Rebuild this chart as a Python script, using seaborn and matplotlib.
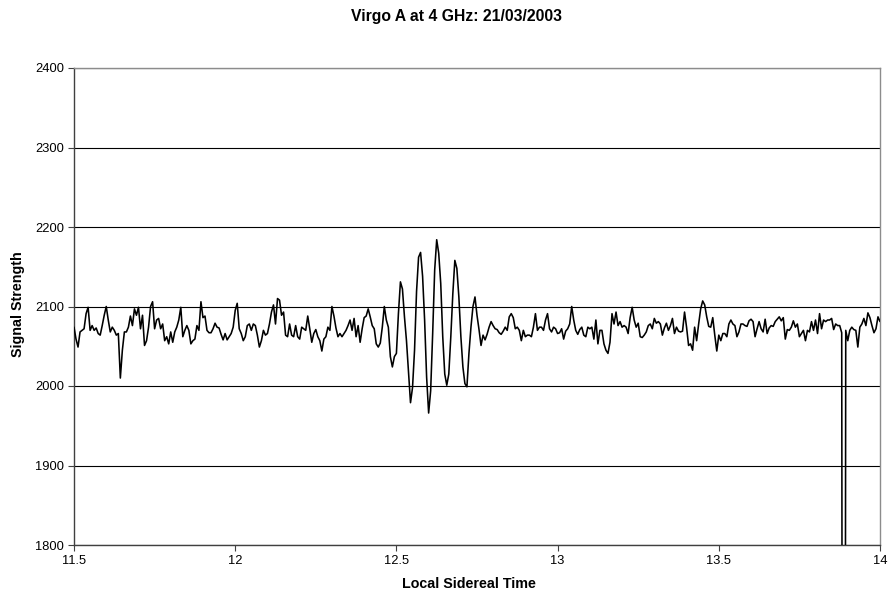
import numpy as np
import pandas as pd
import matplotlib
matplotlib.use("Agg")
import matplotlib.pyplot as plt
import seaborn as sns

# Receiver output, sampled every 0.00625 h of local sidereal time from 11.5 h
lst_start = 11.5
lst_step = 0.00625
signal = [
    2074, 2059, 2049, 2068, 2070, 2072, 2091, 2099, 2070, 2076,
    2070, 2073, 2066, 2064, 2076, 2089, 2100, 2083, 2068, 2074,
    2070, 2064, 2066, 2010, 2045, 2068, 2068, 2074, 2088, 2076,
    2097, 2089, 2099, 2072, 2089, 2051, 2057, 2074, 2100, 2106,
    2072, 2083, 2085, 2072, 2078, 2057, 2062, 2053, 2068,
    2055, 2068, 2074, 2083, 2099, 2062, 2070, 2076, 2070, 2053,
    2057, 2059, 2076, 2070, 2106, 2086, 2088, 2070, 2067, 2067,
    2072, 2079, 2074, 2073, 2065, 2058, 2066, 2058, 2062, 2066,
    2074, 2095, 2104, 2072, 2066, 2057, 2062, 2076, 2078, 2070,
    2078, 2076, 2064, 2049, 2057, 2070, 2064, 2066, 2078, 2093,
    2102, 2078, 2110, 2108, 2089, 2093, 2064, 2062, 2078, 2064,
    2062, 2076, 2062, 2059, 2074, 2072, 2070, 2088, 2072, 2055,
    2066, 2071, 2062, 2057, 2044, 2059, 2062, 2074, 2070, 2100,
    2088, 2073, 2062, 2066, 2062, 2066, 2070, 2076, 2083, 2070,
    2085, 2062, 2076, 2055, 2072, 2086, 2088, 2097, 2087, 2076,
    2072, 2053, 2049, 2054, 2074, 2100, 2083, 2074, 2037, 2024,
    2037, 2041, 2091, 2131, 2122, 2087, 2057, 2019, 1979, 1998,
    2045, 2119, 2162, 2168, 2138, 2083, 2011, 1966, 1994, 2066,
    2146, 2184, 2167, 2129, 2062, 2015, 2001, 2015, 2062, 2116,
    2158, 2148, 2112, 2062, 2024, 2003, 1999, 2041, 2074, 2100,
    2112, 2089, 2071, 2051, 2064, 2058, 2065, 2074, 2081, 2076,
    2072, 2071, 2067, 2065, 2069, 2074, 2070, 2087, 2091, 2086,
    2072, 2074, 2070, 2057, 2070, 2062, 2064, 2064, 2062, 2074,
    2091, 2070, 2074, 2074, 2070, 2083, 2091, 2072, 2068, 2074,
    2072, 2066, 2067, 2072, 2059, 2069, 2072, 2078, 2100, 2083,
    2070, 2065, 2071, 2074, 2064, 2062, 2074, 2072, 2074, 2059,
    2083, 2053, 2070, 2070, 2053, 2045, 2041, 2055, 2091, 2078,
    2093, 2076, 2081, 2074, 2076, 2074, 2066, 2086, 2099, 2083,
    2074, 2079, 2062, 2061, 2064, 2068, 2076, 2078, 2072, 2085,
    2079, 2081, 2078, 2064, 2073, 2079, 2070, 2076, 2085, 2066,
    2074, 2069, 2068, 2069, 2093, 2074, 2051, 2053, 2045, 2074,
    2057, 2078, 2097, 2107, 2102, 2087, 2075, 2074, 2086, 2064,
    2044, 2064, 2057, 2066, 2066, 2062, 2078, 2083, 2078, 2076,
    2062, 2068, 2078, 2078, 2076, 2075, 2082, 2084, 2081, 2062,
    2072, 2081, 2072, 2068, 2084, 2066, 2073, 2076, 2075,
    2081, 2084, 2087, 2082, 2086, 2059, 2071, 2070, 2074, 2082,
    2074, 2078, 2062, 2066, 2070, 2057, 2070, 2068, 2081, 2070,
    2083, 2066, 2091, 2072, 2083, 2081, 2083, 2083, 2085, 2071,
    2078, 2076, 2076, 2067, 0, 2070, 2057, 2070, 2074, 2071,
    2070, 2049, 2074, 2078, 2085, 2076, 2092, 2086, 2076, 2067,
    2072, 2087, 2081,
]

x_ticks = [11.5, 12.0, 12.5, 13.0, 13.5, 14.0]
x_tick_labels = ["11.5", "12", "12.5", "13", "13.5", "14"]
y_ticks = [1800, 1900, 2000, 2100, 2200, 2300, 2400]

lst = lst_start + lst_step * np.arange(len(signal))
df = pd.DataFrame({"lst": lst, "signal": signal})

sns.set_style("white")
plt.rcParams["font.family"] = ["Liberation Sans", "DejaVu Sans"]
plt.rcParams["text.color"] = "black"

W, H = 891, 594
fig = plt.figure(figsize=(W / 100, H / 100), dpi=100)
ax = fig.add_axes([74 / W, 49 / H, 806 / W, 477 / H])

sns.lineplot(data=df, x="lst", y="signal", ax=ax, color="black",
             linewidth=1.15, estimator=None, sort=False, zorder=3)

ax.set_xlim(11.5, 14.0)
ax.set_ylim(1800, 2400)
ax.set_xticks(x_ticks)
ax.set_xticklabels(x_tick_labels)
ax.set_yticks(y_ticks)
ax.yaxis.grid(True, color="black", linewidth=0.8, zorder=1)
ax.xaxis.grid(False)
ax.set_xlabel("")
ax.set_ylabel("")

for side in ("top", "right"):
    ax.spines[side].set_color("#8c8c8c")
    ax.spines[side].set_linewidth(1.0)
for side in ("left", "bottom"):
    ax.spines[side].set_color("#404040")
    ax.spines[side].set_linewidth(1.0)

ax.tick_params(axis="both", which="major", direction="out", length=4,
               width=0.8, color="#404040", labelcolor="black",
               labelsize=9.3, pad=3, left=True, bottom=True)

fig.text(0.512, 1 - 17 / H, "Virgo A at 4 GHz: 21/03/2003", ha="center",
         va="center", fontsize=11.3, fontweight="bold", color="black")
fig.text(469 / W, 1 - 584 / H, "Local Sidereal Time", ha="center",
         va="center", fontsize=10.3, fontweight="bold", color="black")
fig.text(18 / W, 1 - 304 / H, "Signal Strength", ha="center", va="center",
         rotation=90, fontsize=10.3, fontweight="bold", color="black")

fig.savefig("out.png", dpi=100, facecolor="white")
